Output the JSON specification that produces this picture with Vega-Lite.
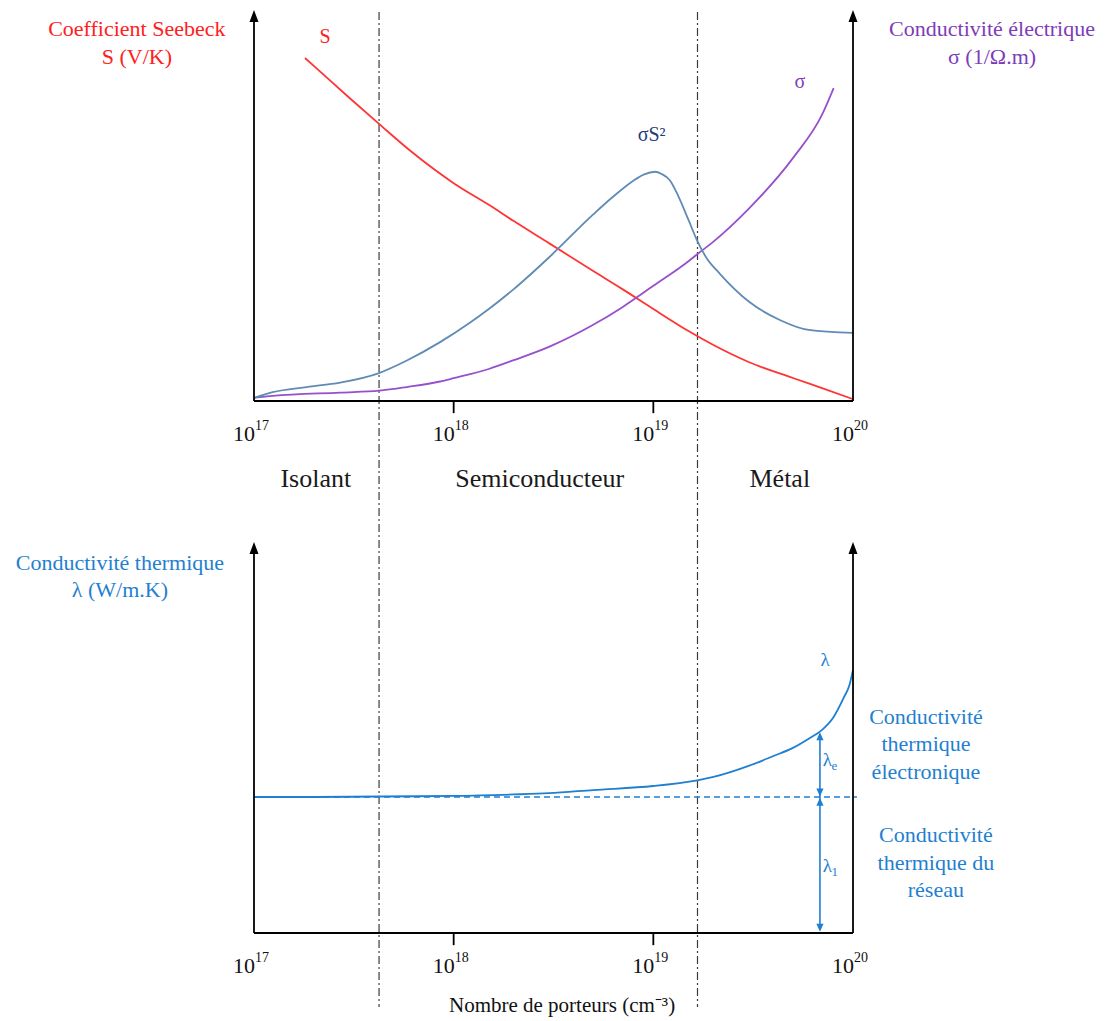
{
  "$schema": "https://vega.github.io/schema/vega-lite/v6.json",
  "width": 1112,
  "height": 1021,
  "padding": 0,
  "autosize": "none",
  "background": "#ffffff",
  "config": {"view": {"stroke": null}, "text": {"font": "Liberation Serif"}},
  "datasets": {
    "dividers": [
      {"n": 4.23e17, "v": 105.7, "v2": -164.7},
      {"n": 1.664e19, "v": 105.7, "v2": -164.7}
    ],
    "axes": [
      {"n": 1e17, "n2": 1e17, "v": 0, "v2": 103.4},
      {"n": 1e20, "n2": 1e20, "v": 0, "v2": 103.4},
      {"n": 1e17, "n2": 1e20, "v": 0, "v2": 0},
      {"n": 1e18, "n2": 1e18, "v": 0, "v2": -3.3},
      {"n": 1e19, "n2": 1e19, "v": 0, "v2": -3.3}
    ],
    "axisTips": [
      {"n": 1e17, "v": 104.6},
      {"n": 1e20, "v": 104.6}
    ],
    "tickLabels": [
      {"n": 1e17, "v": -9, "base": "10", "exp": "17"},
      {"n": 1e18, "v": -9, "base": "10", "exp": "18"},
      {"n": 1e19, "v": -9, "base": "10", "exp": "19"},
      {"n": 1e20, "v": -9, "base": "10", "exp": "20"}
    ],
    "topCurves": [
      {"series": "S", "n": 1.8e17, "v": 93.2},
      {"series": "S", "n": 2e17, "v": 91.0},
      {"series": "S", "n": 3e17, "v": 82.4},
      {"series": "S", "n": 4.23e17, "v": 75.3},
      {"series": "S", "n": 6e17, "v": 68.2},
      {"series": "S", "n": 1e18, "v": 59.2},
      {"series": "S", "n": 1.5e18, "v": 53.3},
      {"series": "S", "n": 2e18, "v": 48.9},
      {"series": "S", "n": 3e18, "v": 42.9},
      {"series": "S", "n": 5e18, "v": 35.3},
      {"series": "S", "n": 7e18, "v": 30.4},
      {"series": "S", "n": 1e19, "v": 25.0},
      {"series": "S", "n": 1.5e19, "v": 19.0},
      {"series": "S", "n": 2e19, "v": 15.2},
      {"series": "S", "n": 3e19, "v": 10.6},
      {"series": "S", "n": 5e19, "v": 6.25},
      {"series": "S", "n": 7e19, "v": 3.5},
      {"series": "S", "n": 1e20, "v": 0.5},
      {"series": "σ", "n": 1e17, "v": 0.9},
      {"series": "σ", "n": 1.24e17, "v": 1.4},
      {"series": "σ", "n": 2.7e17, "v": 2.3},
      {"series": "σ", "n": 4.23e17, "v": 2.8},
      {"series": "σ", "n": 5.83e17, "v": 3.8},
      {"series": "σ", "n": 8.55e17, "v": 5.3},
      {"series": "σ", "n": 1e18, "v": 6.2},
      {"series": "σ", "n": 1.5e18, "v": 8.7},
      {"series": "σ", "n": 2e18, "v": 11.1},
      {"series": "σ", "n": 3e18, "v": 14.7},
      {"series": "σ", "n": 5e18, "v": 20.7},
      {"series": "σ", "n": 7e18, "v": 25.5},
      {"series": "σ", "n": 1e19, "v": 31.3},
      {"series": "σ", "n": 1.5e19, "v": 38.0},
      {"series": "σ", "n": 1.66e19, "v": 39.9},
      {"series": "σ", "n": 2e19, "v": 43.3},
      {"series": "σ", "n": 3e19, "v": 52.2},
      {"series": "σ", "n": 5e19, "v": 66.0},
      {"series": "σ", "n": 7e19, "v": 77.8},
      {"series": "σ", "n": 8e19, "v": 85.0},
      {"series": "σS²", "n": 1e17, "v": 0.8},
      {"series": "σS²", "n": 1.24e17, "v": 2.4},
      {"series": "σS²", "n": 1.84e17, "v": 3.8},
      {"series": "σS²", "n": 2.7e17, "v": 5.0},
      {"series": "σS²", "n": 4.23e17, "v": 7.6},
      {"series": "σS²", "n": 5.83e17, "v": 11.0},
      {"series": "σS²", "n": 8.55e17, "v": 16.0},
      {"series": "σS²", "n": 1.2e18, "v": 21.2},
      {"series": "σS²", "n": 1.5e18, "v": 25.0},
      {"series": "σS²", "n": 2e18, "v": 30.4},
      {"series": "σS²", "n": 3e18, "v": 39.0},
      {"series": "σS²", "n": 5e18, "v": 50.7},
      {"series": "σS²", "n": 6.28e18, "v": 55.5},
      {"series": "σS²", "n": 7.91e18, "v": 59.8},
      {"series": "σS²", "n": 9e18, "v": 61.6},
      {"series": "σS²", "n": 1.02e19, "v": 62.3},
      {"series": "σS²", "n": 1.1e19, "v": 61.7},
      {"series": "σS²", "n": 1.21e19, "v": 60.0},
      {"series": "σS²", "n": 1.33e19, "v": 55.8},
      {"series": "σS²", "n": 1.5e19, "v": 49.2},
      {"series": "σS²", "n": 1.66e19, "v": 43.5},
      {"series": "σS²", "n": 1.84e19, "v": 39.0},
      {"series": "σS²", "n": 2.16e19, "v": 34.5},
      {"series": "σS²", "n": 3.03e19, "v": 26.9},
      {"series": "σS²", "n": 4.3e19, "v": 22.0},
      {"series": "σS²", "n": 6e19, "v": 19.3},
      {"series": "σS²", "n": 1e20, "v": 18.5}
    ],
    "topCurveLabels": [
      {"series": "S", "n": 2.27e17, "v": 98.9, "label": "S"},
      {"series": "σ", "n": 5.42e19, "v": 86.7, "label": "σ"},
      {"series": "σS²", "n": 9.8e18, "v": 72.3, "label": "σS²"}
    ],
    "topSideLabels": [
      {"series": "S", "n": 2.59e16, "v": 101.1, "label": "Coefficient Seebeck\nS (V/K)"},
      {"series": "σ", "n": 4.97e20, "v": 101.1, "label": "Conductivité électrique\nσ (1/Ω.m)"}
    ],
    "regions": [
      {"n": 2.04e17, "v": -21.2, "label": "Isolant"},
      {"n": 2.7e18, "v": -21.2, "label": "Semiconducteur"},
      {"n": 4.3e19, "v": -21.2, "label": "Métal"}
    ],
    "lambdaCurve": [
      {"n": 1e17, "v": 36.96},
      {"n": 2e17, "v": 36.96},
      {"n": 4.23e17, "v": 37.1},
      {"n": 1e18, "v": 37.25},
      {"n": 2e18, "v": 37.65},
      {"n": 3e18, "v": 38.0},
      {"n": 5e18, "v": 38.85},
      {"n": 1e19, "v": 39.95},
      {"n": 1.66e19, "v": 41.5},
      {"n": 2e19, "v": 42.4},
      {"n": 3e19, "v": 45.4},
      {"n": 4e19, "v": 48.1},
      {"n": 5e19, "v": 50.3},
      {"n": 6e19, "v": 52.8},
      {"n": 7e19, "v": 55.2},
      {"n": 8e19, "v": 58.7},
      {"n": 9e19, "v": 64.0},
      {"n": 9.6e19, "v": 67.4},
      {"n": 1e20, "v": 71.5}
    ],
    "refLine": [
      {"n": 1e17, "n2": 1.047e20, "v": 36.96, "v2": 36.96}
    ],
    "dblArrow": [
      {"n": 6.83e19, "n2": 6.83e19, "v": 1.0, "v2": 54.0}
    ],
    "arrowUp": [
      {"n": 6.83e19, "v": 53.5},
      {"n": 6.83e19, "v": 35.7}
    ],
    "arrowDown": [
      {"n": 6.83e19, "v": 38.2},
      {"n": 6.83e19, "v": 1.4}
    ],
    "lambdaLabels": [
      {"n": 7.24e19, "v": 74.2, "main": "λ", "sub": ""},
      {"n": 7.45e19, "v": 47.0, "main": "λ", "sub": "e"},
      {"n": 7.45e19, "v": 18.2, "main": "λ", "sub": "1"}
    ],
    "rightNotes": [
      {"n": 2.32e20, "v": 58.7, "label": "Conductivité\nthermique\nélectronique"},
      {"n": 2.6e20, "v": 26.6, "label": "Conductivité\nthermique du\nréseau"}
    ],
    "leftNote": [
      {"n": 2.13e16, "v": 100.5, "label": "Conductivité thermique\nλ (W/m.K)"}
    ],
    "axisTitle": [
      {"n": 3.49e18, "v": -19.8, "label": "Nombre de porteurs (cm⁻³)"}
    ]
  },
  "encoding": {
    "x": {"field": "n", "type": "quantitative", "scale": {"type": "log", "domain": [5.345e15, 1.982e21], "nice": false}, "axis": null}
  },
  "layer": [
    {
      "encoding": {
        "y": {"field": "v", "type": "quantitative", "scale": {"domain": [-168.48, 108.97], "nice": false, "zero": false}, "axis": null}
      },
      "layer": [
        {"data": {"name": "dividers"}, "mark": {"type": "rule", "stroke": "#3c3c3c", "strokeWidth": 1.2, "strokeDash": [8, 3, 2, 3]}, "encoding": {"y2": {"field": "v2"}}},
        {"data": {"name": "topCurves"}, "mark": {"type": "line", "interpolate": "monotone", "strokeWidth": 1.8},
          "encoding": {"color": {"field": "series", "type": "nominal", "scale": {"domain": ["S", "σ", "σS²"], "range": ["#ff3434", "#9650cc", "#5f8bb5"]}, "legend": null}}},
        {"data": {"name": "axes"}, "mark": {"type": "rule", "stroke": "#000000", "strokeWidth": 1.8}, "encoding": {"x2": {"field": "n2"}, "y2": {"field": "v2"}}},
        {"data": {"name": "axisTips"}, "mark": {"type": "point", "shape": "M0,-1L0.75,1L-0.75,1Z", "size": 144, "filled": true, "color": "#000000", "opacity": 1, "strokeWidth": 0}},
        {"data": {"name": "tickLabels"}, "mark": {"type": "text", "align": "right", "baseline": "middle", "fontSize": 22, "dx": 1, "fill": "#111111"}, "encoding": {"text": {"field": "base"}}},
        {"data": {"name": "tickLabels"}, "mark": {"type": "text", "align": "left", "baseline": "middle", "fontSize": 14, "dx": 1, "dy": -8, "fill": "#111111"}, "encoding": {"text": {"field": "exp"}}},
        {"data": {"name": "regions"}, "mark": {"type": "text", "align": "center", "baseline": "middle", "fontSize": 26, "fill": "#1a1a1a"}, "encoding": {"text": {"field": "label"}}},
        {"data": {"name": "topCurveLabels"}, "mark": {"type": "text", "align": "center", "baseline": "middle", "fontSize": 20},
          "encoding": {"text": {"field": "label"}, "fill": {"field": "series", "type": "nominal", "scale": {"domain": ["S", "σ", "σS²"], "range": ["#ff2020", "#7e3cb8", "#1f3d7a"]}, "legend": null}}},
        {"data": {"name": "topSideLabels"}, "mark": {"type": "text", "align": "center", "baseline": "middle", "fontSize": 22, "lineBreak": "\n", "lineHeight": 28},
          "encoding": {"text": {"field": "label"}, "fill": {"field": "series", "type": "nominal", "scale": {"domain": ["S", "σ", "σS²"], "range": ["#ff2020", "#7e3cb8", "#1f3d7a"]}, "legend": null}}}
      ]
    },
    {
      "encoding": {
        "y": {"field": "v", "type": "quantitative", "scale": {"domain": [-23.91, 253.53], "nice": false, "zero": false}, "axis": null}
      },
      "layer": [
        {"data": {"name": "refLine"}, "mark": {"type": "rule", "stroke": "#1f7fd0", "strokeWidth": 1.4, "strokeDash": [6, 4]}, "encoding": {"x2": {"field": "n2"}, "y2": {"field": "v2"}}},
        {"data": {"name": "lambdaCurve"}, "mark": {"type": "line", "interpolate": "monotone", "strokeWidth": 1.8, "color": "#1f7fd0"}},
        {"data": {"name": "dblArrow"}, "mark": {"type": "rule", "stroke": "#1f7fd0", "strokeWidth": 1.6}, "encoding": {"x2": {"field": "n2"}, "y2": {"field": "v2"}}},
        {"data": {"name": "arrowUp"}, "mark": {"type": "point", "shape": "M0,-1L0.9,1L-0.9,1Z", "size": 64, "filled": true, "color": "#1f7fd0", "opacity": 1, "strokeWidth": 0}},
        {"data": {"name": "arrowDown"}, "mark": {"type": "point", "shape": "M0,1L0.9,-1L-0.9,-1Z", "size": 64, "filled": true, "color": "#1f7fd0", "opacity": 1, "strokeWidth": 0}},
        {"data": {"name": "axes"}, "mark": {"type": "rule", "stroke": "#000000", "strokeWidth": 1.8}, "encoding": {"x2": {"field": "n2"}, "y2": {"field": "v2"}}},
        {"data": {"name": "axisTips"}, "mark": {"type": "point", "shape": "M0,-1L0.75,1L-0.75,1Z", "size": 144, "filled": true, "color": "#000000", "opacity": 1, "strokeWidth": 0}},
        {"data": {"name": "tickLabels"}, "mark": {"type": "text", "align": "right", "baseline": "middle", "fontSize": 22, "dx": 1, "fill": "#111111"}, "encoding": {"text": {"field": "base"}}},
        {"data": {"name": "tickLabels"}, "mark": {"type": "text", "align": "left", "baseline": "middle", "fontSize": 14, "dx": 1, "dy": -8, "fill": "#111111"}, "encoding": {"text": {"field": "exp"}}},
        {"data": {"name": "axisTitle"}, "mark": {"type": "text", "align": "center", "baseline": "middle", "fontSize": 21, "fill": "#111111"}, "encoding": {"text": {"field": "label"}}},
        {"data": {"name": "lambdaLabels"}, "mark": {"type": "text", "align": "center", "baseline": "middle", "fontSize": 19, "fill": "#1f7fd0"}, "encoding": {"text": {"field": "main"}}},
        {"data": {"name": "lambdaLabels"}, "mark": {"type": "text", "align": "left", "baseline": "middle", "fontSize": 13, "dx": 4, "dy": 6, "fill": "#1f7fd0"}, "encoding": {"text": {"field": "sub"}}},
        {"data": {"name": "rightNotes"}, "mark": {"type": "text", "align": "center", "baseline": "middle", "fontSize": 22, "lineBreak": "\n", "lineHeight": 27.5, "fill": "#1f7fd0"}, "encoding": {"text": {"field": "label"}}},
        {"data": {"name": "leftNote"}, "mark": {"type": "text", "align": "center", "baseline": "middle", "fontSize": 22, "lineBreak": "\n", "lineHeight": 27, "fill": "#1f7fd0"}, "encoding": {"text": {"field": "label"}}}
      ]
    }
  ],
  "resolve": {"scale": {"y": "independent"}}
}
